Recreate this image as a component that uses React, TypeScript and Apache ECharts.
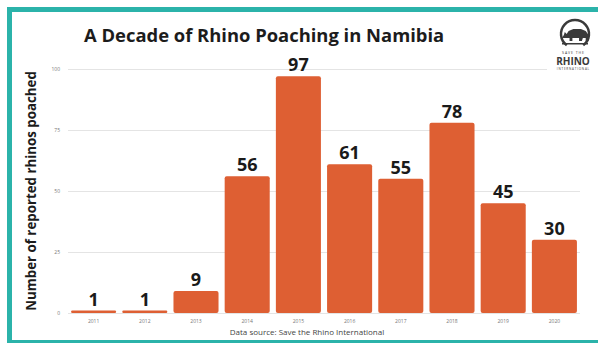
import React, { useEffect, useRef } from "react";
import * as echarts from "echarts";

const years = ["2011", "2012", "2013", "2014", "2015", "2016", "2017", "2018", "2019", "2020"];
const poached = [1, 1, 9, 56, 97, 61, 55, 78, 45, 30];
const yTicks = { min: 0, max: 100, interval: 25 };

const titleText = "A Decade of Rhino Poaching in Namibia";
const yAxisTitle = "Number of reported rhinos poached";
const sourceText = "Data source: Save the Rhino International";

const rhinoPath =
  "M1 12 L3 9 L4 6 L6 8 L8 5 L13 3 L21 3 L26 5 L29 9 L29 15 L26 15 L26 12 L23 12 L22 15 L19 15 L19 12 L12 12 L12 15 L9 15 L9 12 L5 12 Z";

let shapeRegistered = false;
function registerRhino() {
  if (shapeRegistered) return;
  echarts.graphic.registerShape("logo", echarts.graphic.extendPath(rhinoPath, {}) as any);
  shapeRegistered = true;
}

export default function App() {
  const ref = useRef<HTMLDivElement>(null);

  useEffect(() => {
    if (!ref.current) return;
    registerRhino();
    const chart = echarts.init(ref.current, undefined, { renderer: "svg" });
    const teal = "#2bb3aa";
    const dark = "#3a3a3a";
    const logoText = (text: string, y: number, size: number, bold = false) => ({
      type: "text",
      z: 101,
      style: {
        text,
        x: 573,
        y,
        align: "center",
        verticalAlign: "middle",
        fontSize: size,
        lineHeight: size,
        fontWeight: bold ? "bold" : "normal",
        fontFamily: "Open Sans",
        fill: dark,
      },
    });
    chart.setOption({
      animation: false,
      backgroundColor: "#ffffff",
      title: {
        text: titleText,
        left: 79,
        top: 20,
        textStyle: {
          fontFamily: "Open Sans",
          fontWeight: "bold",
          fontSize: 18.4,
          color: "#1c1c1c",
        },
      },
      grid: { left: 68, right: 18, top: 69, bottom: 30 },
      xAxis: {
        type: "category",
        data: years,
        axisLine: { show: false },
        axisTick: { show: false },
        axisLabel: { fontSize: 5, color: "#777", margin: 5, fontFamily: "Open Sans" },
      },
      yAxis: {
        type: "value",
        min: yTicks.min,
        max: yTicks.max,
        interval: yTicks.interval,
        name: yAxisTitle,
        nameLocation: "middle",
        nameRotate: 90,
        nameGap: 31,
        nameTextStyle: {
          fontFamily: "Open Sans",
          fontWeight: "bold",
          fontSize: 13.3,
          color: "#1c1c1c",
        },
        axisLabel: { fontSize: 5, color: "#777", margin: 8, fontFamily: "Open Sans" },
        splitLine: { lineStyle: { color: "#e4e4e4", width: 1 } },
      },
      series: [
        {
          type: "bar",
          data: poached,
          barCategoryGap: "12%",
          itemStyle: { color: "#de5f33", borderRadius: 2 },
          label: {
            show: true,
            position: "top",
            distance: 3,
            fontFamily: "Open Sans",
            fontWeight: "bold",
            fontSize: 18,
            color: "#1a1a1a",
          },
        },
      ],
      graphic: [
        { type: "rect", z: 100, shape: { x: 7, y: 7, width: 591, height: 5 }, style: { fill: teal } },
        { type: "rect", z: 100, shape: { x: 7, y: 7, width: 5, height: 336 }, style: { fill: teal } },
        { type: "rect", z: 100, shape: { x: 7, y: 340, width: 591, height: 3 }, style: { fill: teal } },
        { type: "rect", z: 100, shape: { x: 547, y: 15, width: 50, height: 58 }, style: { fill: "#ffffff" } },
        {
          type: "arc",
          z: 101,
          shape: { cx: 575, cy: 34, r: 14, startAngle: Math.PI * 0.7, endAngle: Math.PI * 0.3 },
          style: { stroke: dark, lineWidth: 2.5, fill: "none" },
        },
        { type: "logo", z: 102, x: 561, y: 26, scaleX: 0.95, scaleY: 1, style: { fill: dark } },
        {
          type: "rect",
          z: 101,
          shape: { x: 562, y: 43, width: 26, height: 1.5 },
          style: { fill: dark },
        },
        logoText("S A V E   T H E", 52, 3.5),
        logoText("RHINO", 60.5, 10, true),
        logoText("I N T E R N A T I O N A L", 68.5, 3),
        {
          type: "text",
          z: 101,
          style: {
            text: sourceText,
            x: 307,
            y: 331,
            align: "center",
            verticalAlign: "middle",
            fontSize: 8,
            fontFamily: "Open Sans",
            fill: "#444",
          },
        },
      ],
    });
    return () => chart.dispose();
  }, []);

  return (
    <div
      ref={ref}
      style={{ position: "fixed", left: 0, top: 0, width: 598, height: 343 }}
    />
  );
}
